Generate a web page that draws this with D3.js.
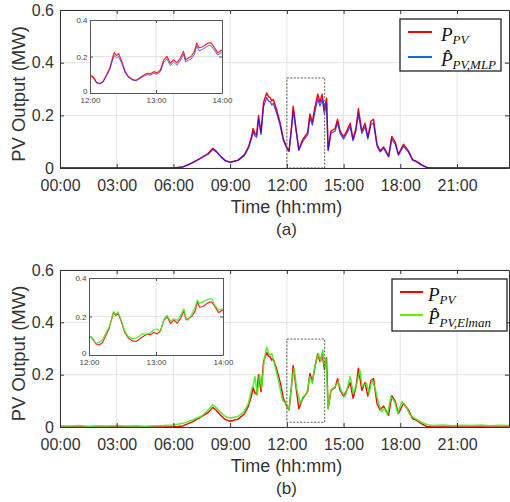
<!DOCTYPE html>
<html><head><meta charset="utf-8">
<script src="https://cdn.jsdelivr.net/npm/d3@7/dist/d3.min.js"></script>
<style>body{margin:0;background:#fff}text{font-family:"Liberation Sans",Arial,sans-serif}</style>
</head><body><svg id="c" width="510" height="502"></svg>
<script>
// ---------- data ----------
const xTicks = ["00:00","03:00","06:00","09:00","12:00","15:00","18:00","21:00"];
const yTicks = [0, 0.2, 0.4, 0.6];
const insetXTicks = ["12:00","13:00","14:00"];
const insetYTicks = [0, 0.2, 0.4];
const xEnd = "23:45";

const timeA = ["00:00","06:00","06:30","06:45","07:00","07:25","07:50","08:05","08:15","08:30","08:45","09:00","09:25","09:45","09:58","10:08","10:13","10:19","10:24","10:30","10:38","10:46","10:56","11:02","11:07","11:12","11:17","11:28","11:38","11:49","12:00","12:07","12:15","12:20","12:24","12:28","12:38","12:49","12:57","13:06","13:13","13:21","13:29","13:38","13:45","13:52","13:59","14:06","14:11","14:20","14:33","14:41","14:49","15:00","15:10","15:21","15:30","15:39","15:47","15:58","16:08","16:17","16:27","16:35","16:46","16:56","17:07","17:23","17:33","17:44","17:54","18:10","18:26","18:39","18:52","19:08","19:24","19:40","23:50"];
const pvA = [0,0,0.004,0.012,0.02,0.037,0.055,0.075,0.065,0.045,0.028,0.022,0.03,0.05,0.08,0.12,0.15,0.13,0.125,0.2,0.135,0.25,0.285,0.27,0.268,0.255,0.26,0.22,0.175,0.11,0.078,0.065,0.16,0.235,0.2,0.16,0.07,0.105,0.12,0.135,0.205,0.175,0.23,0.28,0.25,0.28,0.22,0.265,0.07,0.14,0.15,0.185,0.14,0.118,0.14,0.17,0.11,0.15,0.225,0.14,0.17,0.118,0.178,0.185,0.09,0.065,0.08,0.045,0.12,0.098,0.052,0.09,0.065,0.032,0.025,0.012,0.002,0,0];
const mlpA = [0,0,0.004,0.011,0.019,0.035,0.052,0.07,0.062,0.043,0.027,0.021,0.029,0.047,0.075,0.112,0.138,0.122,0.117,0.185,0.127,0.233,0.268,0.254,0.252,0.24,0.245,0.207,0.165,0.104,0.074,0.062,0.15,0.215,0.188,0.15,0.066,0.098,0.112,0.126,0.19,0.163,0.214,0.262,0.235,0.262,0.205,0.248,0.066,0.132,0.14,0.172,0.131,0.11,0.131,0.158,0.103,0.14,0.205,0.131,0.158,0.11,0.165,0.172,0.084,0.061,0.075,0.042,0.11,0.091,0.049,0.083,0.06,0.03,0.023,0.011,0.002,0,0];

const timeB = ["00:00","00:30","01:00","01:30","02:00","02:30","03:00","03:30","04:00","04:30","05:00","05:30","06:00","06:30","07:00","07:30","07:50","08:05","08:15","08:30","08:45","09:00","09:25","09:45","09:58","10:08","10:13","10:19","10:26","10:33","10:40","10:48","10:56","11:05","11:12","11:20","11:33","11:46","12:00","12:07","12:15","12:23","12:31","12:42","12:52","13:03","13:13","13:21","13:29","13:40","13:48","13:54","13:59","14:04","14:11","14:20","14:33","14:43","14:54","15:05","15:21","15:31","15:42","15:52","15:59","16:13","16:21","16:30","16:40","16:51","17:01","17:10","17:19","17:30","17:42","17:52","18:05","18:21","18:31","18:47","19:08","19:29","19:45","20:15","20:45","21:15","21:45","22:15","22:45","23:15","23:50"];
const elmanB = [0.005,0.004,0.006,0.003,0.005,0.004,0.006,0.004,0.005,0.003,0.005,0.006,0.008,0.014,0.027,0.042,0.065,0.085,0.075,0.055,0.04,0.034,0.04,0.06,0.09,0.145,0.16,0.192,0.122,0.2,0.148,0.256,0.305,0.275,0.28,0.243,0.18,0.103,0.084,0.065,0.167,0.224,0.148,0.09,0.116,0.128,0.192,0.167,0.23,0.28,0.25,0.295,0.23,0.263,0.071,0.141,0.154,0.173,0.135,0.116,0.192,0.128,0.167,0.218,0.154,0.167,0.128,0.18,0.148,0.09,0.059,0.071,0.046,0.116,0.097,0.052,0.097,0.071,0.046,0.033,0.017,0.008,0.006,0.008,0.005,0.007,0.006,0.008,0.005,0.007,0.006];

const insetTime = ["12:00","12:02","12:04","12:06","12:09","12:12","12:15","12:18","12:20","12:22","12:24","12:26","12:29","12:32","12:35","12:39","12:42","12:45","12:48","12:52","12:55","12:58","13:01","13:04","13:07","13:10","13:13","13:16","13:19","13:22","13:25","13:27","13:29","13:32","13:35","13:37","13:39","13:42","13:45","13:48","13:50","13:53","13:56","13:58","14:00"];
const insetPV = [0.095,0.093,0.08,0.058,0.052,0.064,0.1,0.137,0.182,0.222,0.205,0.217,0.172,0.117,0.09,0.073,0.07,0.082,0.095,0.108,0.105,0.117,0.11,0.126,0.18,0.2,0.163,0.182,0.165,0.19,0.228,0.182,0.19,0.2,0.228,0.275,0.248,0.252,0.265,0.275,0.275,0.25,0.22,0.228,0.235];
const insetMLP = [0.09,0.088,0.072,0.055,0.05,0.06,0.094,0.128,0.17,0.205,0.192,0.2,0.16,0.11,0.085,0.07,0.068,0.078,0.09,0.1,0.098,0.108,0.103,0.118,0.168,0.186,0.15,0.17,0.152,0.176,0.212,0.17,0.178,0.186,0.212,0.258,0.232,0.238,0.25,0.26,0.258,0.235,0.208,0.215,0.222];
const insetElman = [0.1,0.093,0.075,0.062,0.066,0.078,0.113,0.145,0.18,0.225,0.21,0.224,0.18,0.125,0.097,0.085,0.087,0.098,0.11,0.108,0.116,0.13,0.135,0.122,0.185,0.206,0.175,0.188,0.18,0.205,0.24,0.19,0.182,0.212,0.248,0.285,0.268,0.276,0.285,0.292,0.292,0.255,0.235,0.236,0.24];

const zoomStart = "12:00", zoomEnd = "14:00";
const zoomLow = [0, 0.018], zoomHigh = [0.342, 0.336];
const panelLabels = ["(a)", "(b)"];
const legendSub = ["PV,MLP", "PV,Elman"];

// ---------- drawing ----------
const parse = s => { const [h, m] = s.split(":").map(Number); return h * 60 + m; };
const svg = d3.select("#c");
const RED = "#ff0000", BLUE = "#1010ff", GREEN = "#3cf01e";

const panels = [
  {top: 10, bottom: 168, left: 60, right: 509,
   inset: {left: 90, right: 222, top: 20, bottom: 93},
   legend: {x: 400, y: 19, w: 101, h: 52, lineX: 408, lineW: 24, r1: 32, r2: 57, tx: 441},
   series: [{t: timeA, v: pvA, c: RED, w: 1.4, o: 1}, {t: timeA, v: mlpA, c: BLUE, w: 1.3, o: 0.75}],
   insetSeries: [{v: insetPV, c: RED, w: 1.2, o: 0.85}, {v: insetMLP, c: BLUE, w: 1.0, o: 0.65}],
   legColor: "#0a6fd6"},
  {top: 270, bottom: 427, left: 60, right: 509,
   inset: {left: 89, right: 223, top: 278, bottom: 355},
   legend: {x: 392, y: 279, w: 115, h: 52, lineX: 400, lineW: 23, r1: 292, r2: 315, tx: 428},
   series: [{t: timeA, v: pvA, c: RED, w: 1.4, o: 1}, {t: timeB, v: elmanB, c: GREEN, w: 1.5, o: 0.9}],
   insetSeries: [{v: insetPV, c: RED, w: 1.2, o: 0.85}, {v: insetElman, c: GREEN, w: 1.2, o: 0.9}],
   legColor: "#66ee00"}
];

panels.forEach((p, i) => {
  const x = d3.scaleLinear().domain([0, parse(xEnd)]).range([p.left, p.right]);
  const y = d3.scaleLinear().domain([0, 0.6]).range([p.bottom, p.top]);
  const g = svg.append("g");

  // grid
  g.append("g").selectAll("line").data(xTicks.map(parse)).join("line")
    .attr("x1", d => x(d)).attr("x2", d => x(d)).attr("y1", p.top).attr("y2", p.bottom)
    .attr("stroke", "#e4e4e4").attr("stroke-width", 1);
  g.append("g").selectAll("line").data(yTicks).join("line")
    .attr("x1", p.left).attr("x2", p.right).attr("y1", d => y(d)).attr("y2", d => y(d))
    .attr("stroke", "#e4e4e4").attr("stroke-width", 1);

  // clip
  const cid = "clip" + i;
  svg.append("clipPath").attr("id", cid).append("rect")
    .attr("x", p.left).attr("y", p.top).attr("width", p.right - p.left).attr("height", p.bottom - p.top);

  const lines = g.append("g").attr("clip-path", `url(#${cid})`);
  p.series.forEach(s => {
    const pts = s.t.map((t, k) => [parse(t), s.v[k]]);
    lines.append("path").datum(pts)
      .attr("d", d3.line().x(d => x(d[0])).y(d => y(d[1])))
      .attr("fill", "none").attr("stroke", s.c).attr("stroke-width", s.w)
      .attr("stroke-opacity", s.o).attr("stroke-linejoin", "round");
  });

  // zoom box
  g.append("rect")
    .attr("x", x(parse(zoomStart))).attr("y", y(zoomHigh[i]))
    .attr("width", x(parse(zoomEnd)) - x(parse(zoomStart)))
    .attr("height", y(zoomLow[i]) - y(zoomHigh[i]))
    .attr("fill", "none").attr("stroke", "#5a6240").attr("stroke-width", 1)
    .attr("stroke-dasharray", "2,1.5");

  // axes
  const axCol = "#333";
  const xb = g.append("g").attr("transform", `translate(0,${p.bottom})`)
    .call(d3.axisBottom(x).tickValues(xTicks.map(parse)).tickFormat((d, k) => xTicks[k])
      .tickSizeInner(-4).tickSizeOuter(0).tickPadding(12));
  const xt = g.append("g").attr("transform", `translate(0,${p.top})`)
    .call(d3.axisTop(x).tickValues(xTicks.map(parse)).tickFormat("").tickSizeInner(-4).tickSizeOuter(0));
  const yl = g.append("g").attr("transform", `translate(${p.left},0)`)
    .call(d3.axisLeft(y).tickValues(yTicks).tickFormat(d => d === 0 ? "0" : d3.format(".1f")(d))
      .tickSizeInner(-4).tickSizeOuter(0).tickPadding(6));
  const yr = g.append("g").attr("transform", `translate(${p.right},0)`)
    .call(d3.axisRight(y).tickValues(yTicks).tickFormat("").tickSizeInner(-4).tickSizeOuter(0));
  [xb, xt, yl, yr].forEach(a => {
    a.select(".domain").attr("stroke", axCol).attr("stroke-width", 1);
    a.selectAll(".tick line").attr("stroke", axCol);
    a.selectAll("text").attr("fill", "#333").style("font-size", "16px")
      .style("font-family", '"Liberation Sans", Arial, sans-serif');
  });

  // axis titles
  g.append("text").attr("x", (p.left + p.right) / 2 + 2).attr("y", p.bottom + 45)
    .attr("text-anchor", "middle").attr("fill", "#333").style("font-size", "18px").text("Time (hh:mm)");
  g.append("text").attr("x", (p.left + p.right) / 2 + 2).attr("y", p.bottom + 67)
    .attr("text-anchor", "middle").attr("fill", "#333").style("font-size", "17px").text(panelLabels[i]);
  g.append("text").attr("transform", `translate(25,${(p.top + p.bottom) / 2 + 5}) rotate(-90)`)
    .attr("text-anchor", "middle").attr("fill", "#333").style("font-size", "18.5px").text("PV Output (MW)");

  // inset
  const ip = p.inset;
  const ix = d3.scaleLinear().domain([parse(insetXTicks[0]), parse(insetXTicks[2])]).range([ip.left, ip.right]);
  const iy = d3.scaleLinear().domain([0, 0.4]).range([ip.bottom, ip.top]);
  const ig = svg.append("g");
  ig.append("rect").attr("x", ip.left).attr("y", ip.top).attr("width", ip.right - ip.left)
    .attr("height", ip.bottom - ip.top).attr("fill", "#fff");
  ig.append("line").attr("x1", ix(parse(insetXTicks[1]))).attr("x2", ix(parse(insetXTicks[1])))
    .attr("y1", ip.top).attr("y2", ip.bottom).attr("stroke", "#e4e4e4");
  ig.append("line").attr("x1", ip.left).attr("x2", ip.right)
    .attr("y1", iy(insetYTicks[1])).attr("y2", iy(insetYTicks[1])).attr("stroke", "#e4e4e4");
  p.insetSeries.forEach(s => {
    const pts = insetTime.map((t, k) => [parse(t), s.v[k]]);
    ig.append("path").datum(pts)
      .attr("d", d3.line().x(d => ix(d[0])).y(d => iy(d[1])))
      .attr("fill", "none").attr("stroke", s.c).attr("stroke-width", s.w)
      .attr("stroke-opacity", s.o).attr("stroke-linejoin", "round");
  });
  const ixb = ig.append("g").attr("transform", `translate(0,${ip.bottom})`)
    .call(d3.axisBottom(ix).tickValues(insetXTicks.map(parse)).tickFormat((d, k) => insetXTicks[k])
      .tickSizeInner(-3).tickSizeOuter(0).tickPadding(4.5));
  const ixt = ig.append("g").attr("transform", `translate(0,${ip.top})`)
    .call(d3.axisTop(ix).tickValues(insetXTicks.map(parse)).tickFormat("").tickSizeInner(-3).tickSizeOuter(0));
  const iyl = ig.append("g").attr("transform", `translate(${ip.left},0)`)
    .call(d3.axisLeft(iy).tickValues(insetYTicks).tickFormat(d => d === 0 ? "0" : d3.format(".1f")(d))
      .tickSizeInner(-3).tickSizeOuter(0).tickPadding(2.5));
  const iyr = ig.append("g").attr("transform", `translate(${ip.right},0)`)
    .call(d3.axisRight(iy).tickValues(insetYTicks).tickFormat("").tickSizeInner(-3).tickSizeOuter(0));
  [ixb, ixt, iyl, iyr].forEach(a => {
    a.select(".domain").attr("stroke", "#555").attr("stroke-width", 1);
    a.selectAll(".tick line").attr("stroke", "#555");
    a.selectAll("text").attr("fill", "#444").style("font-size", "8px")
      .style("font-family", '"Liberation Sans", Arial, sans-serif');
  });
  // nudge the inset's "0" label up so it clears the time labels
  iyl.selectAll(".tick text").filter(d => d === 0).attr("dy", "0.05em");

  // legend
  const L = p.legend;
  const lg = svg.append("g");
  lg.append("rect").attr("x", L.x).attr("y", L.y).attr("width", L.w).attr("height", L.h)
    .attr("fill", "#fff").attr("stroke", "#222").attr("stroke-width", 1.3);
  lg.append("line").attr("x1", L.lineX).attr("x2", L.lineX + L.lineW).attr("y1", L.r1).attr("y2", L.r1)
    .attr("stroke", RED).attr("stroke-width", 2);
  lg.append("line").attr("x1", L.lineX).attr("x2", L.lineX + L.lineW).attr("y1", L.r2).attr("y2", L.r2)
    .attr("stroke", p.legColor).attr("stroke-width", 2);
  const serif = '"Liberation Serif","DejaVu Serif",serif';
  const t1 = lg.append("text").attr("x", L.tx).attr("y", L.r1 + 9).style("font-family", serif)
    .style("font-style", "italic").attr("fill", "#111");
  t1.append("tspan").style("font-size", "19px").text("P");
  t1.append("tspan").style("font-size", "13px").attr("dy", 3).text("PV");
  const t2 = lg.append("text").attr("x", L.tx).attr("y", L.r2 + 9).style("font-family", serif)
    .style("font-style", "italic").attr("fill", "#111");
  t2.append("tspan").style("font-size", "19px").text("P\u0302");
  t2.append("tspan").style("font-size", "13px").attr("dy", 3).text(legendSub[i]);
});
</script></body></html>
